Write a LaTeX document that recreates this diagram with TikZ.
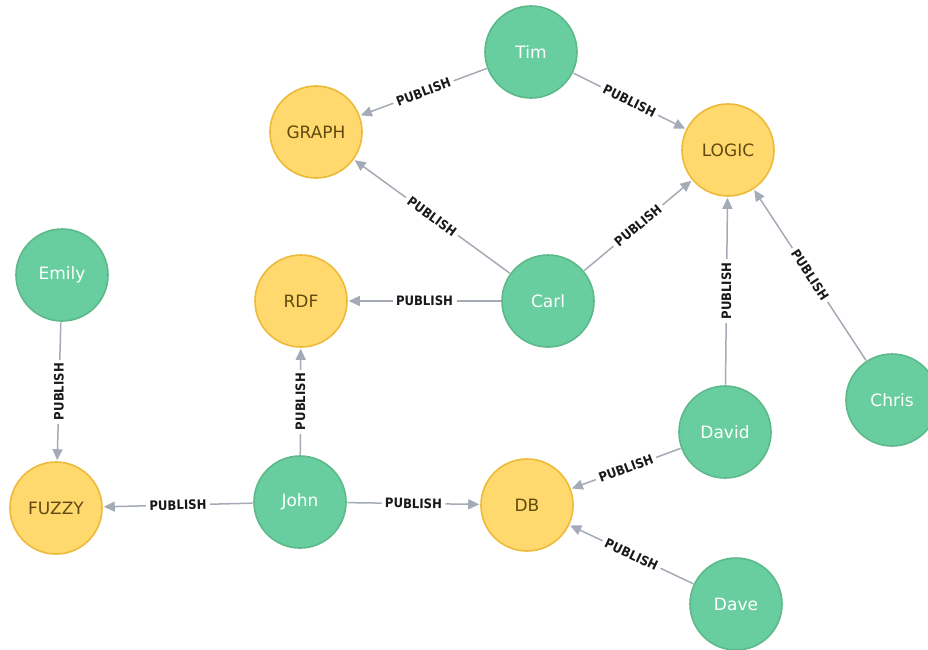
\documentclass[tikz,border=0pt]{standalone}
\usepackage{fontspec}
\setmainfont{DejaVu Sans}
\newfontfamily\edgefont{DejaVu Sans Condensed}
\usetikzlibrary{arrows.meta}
\definecolor{personfill}{HTML}{68CE9F}
\definecolor{persondraw}{HTML}{5DB98A}
\definecolor{topicfill}{HTML}{FFD86E}
\definecolor{topicdraw}{HTML}{EDBA39}
\definecolor{topictext}{HTML}{604A0E}
\definecolor{edgegray}{HTML}{A5ABB6}
\tikzset{
  vertex/.style={circle, minimum size=92pt, inner sep=0pt, line width=1.6pt,
    font=\fontsize{17}{20}\selectfont},
  person/.style={vertex, fill=personfill, draw=persondraw, text=white},
  topic/.style={vertex, fill=topicfill, draw=topicdraw, text=topictext},
  rel/.style={draw=edgegray, line width=1.5pt,
    -{Triangle[length=11pt,width=10pt]}, shorten >=1pt, shorten <=0.5pt},
  rellabel/.style={fill=white, inner sep=3.5pt, text=black!90,
    font=\edgefont\bfseries\fontsize{13}{15}\selectfont}
}
\begin{document}
\begin{tikzpicture}[x=1pt,y=-1pt]
\useasboundingbox (0,0) rectangle (928,649);
\fill[white] (0,0) rectangle (928,649);

% people
\node[person] (tim)   at (531,52)  {Tim};
\node[person] (emily) at (62,275)  {Emily};
\node[person] (carl)  at (548,301) {Carl};
\node[person] (chris) at (892,400) {Chris};
\node[person] (david) at (725,432) {David};
\node[person] (john)  at (300,502) {John};
\node[person] (dave)  at (736,604) {Dave};

% topics
\node[topic] (graph) at (316,132) {GRAPH};
\node[topic] (logic) at (728,150) {LOGIC};
\node[topic] (rdf)   at (301,301) {RDF};
\node[topic] (fuzzy) at (56,508)  {FUZZY};
\node[topic] (db)    at (527,505) {DB};

% publications
\draw[rel] (tim)   -- node[rellabel, sloped] {PUBLISH} (graph);
\draw[rel] (tim)   -- node[rellabel, sloped] {PUBLISH} (logic);
\draw[rel] (carl)  -- node[rellabel, sloped] {PUBLISH} (graph);
\draw[rel] (carl)  -- node[rellabel, sloped] {PUBLISH} (logic);
\draw[rel] (carl)  -- node[rellabel, sloped] {PUBLISH} (rdf);
\draw[rel] (chris) -- node[rellabel, sloped] {PUBLISH} (logic);
\draw[rel] (david) -- node[rellabel, rotate=90] {PUBLISH} (logic);
\draw[rel] (emily) -- node[rellabel, rotate=90] {PUBLISH} (fuzzy);
\draw[rel] (john)  -- node[rellabel, rotate=90] {PUBLISH} (rdf);
\draw[rel] (john)  -- node[rellabel, sloped] {PUBLISH} (fuzzy);
\draw[rel] (john)  -- node[rellabel, sloped] {PUBLISH} (db);
\draw[rel] (david) -- node[rellabel, sloped] {PUBLISH} (db);
\draw[rel] (dave)  -- node[rellabel, sloped] {PUBLISH} (db);
\end{tikzpicture}
\end{document}
